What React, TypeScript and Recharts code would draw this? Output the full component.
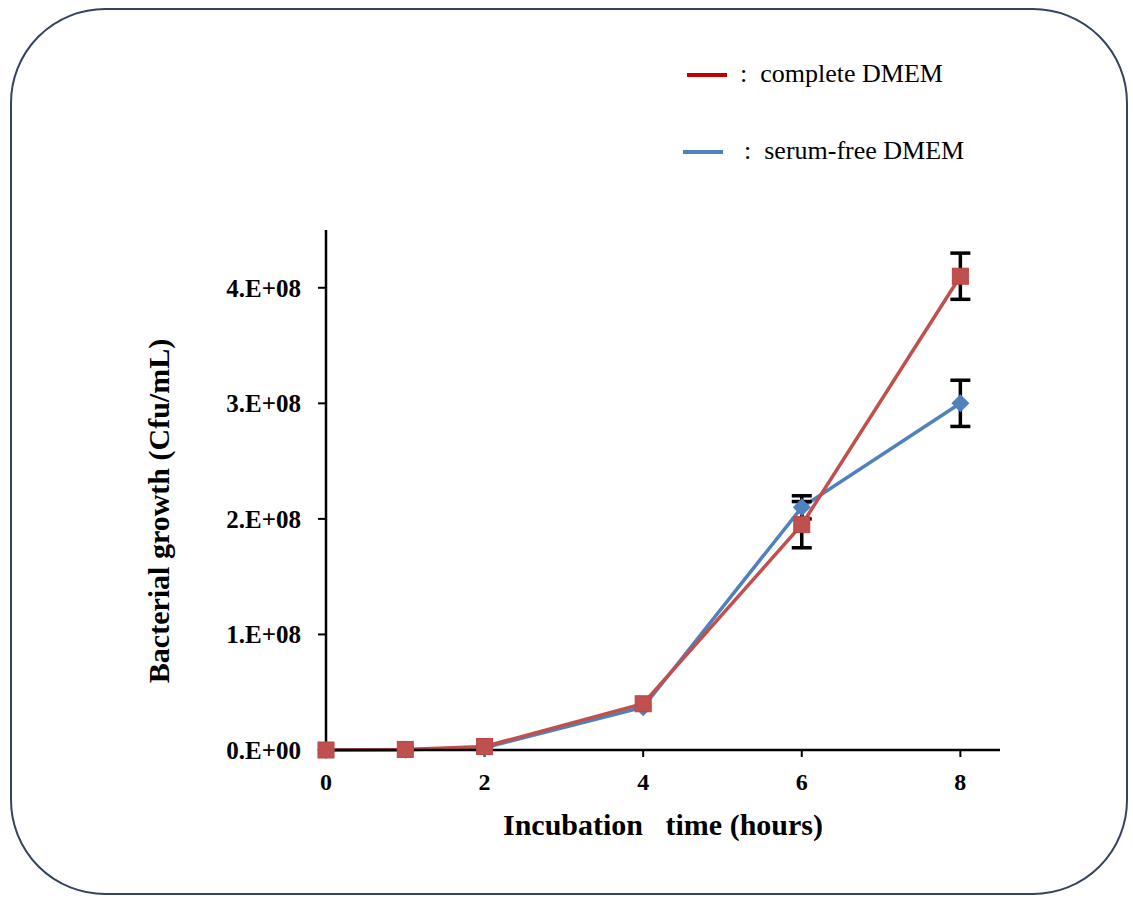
import React from "react";
import { LineChart, Line, XAxis, YAxis, ErrorBar } from "recharts";

const hours = [0, 1, 2, 4, 6, 8];
const completeDMEM = [0, 0.5e6, 3e6, 4.0e7, 1.95e8, 4.1e8];
const completeErr = [0, 0, 0, 0, 2.0e7, 2.0e7];
const serumFreeDMEM = [0, 0.3e6, 2e6, 3.7e7, 2.1e8, 3.0e8];
const serumFreeErr = [0, 0, 0, 0, 1.0e7, 2.0e7];
const xTicks = [0, 2, 4, 6, 8];
const yTicks = [0, 1e8, 2e8, 3e8, 4e8];
const yTickLabels = ["0.E+00", "1.E+08", "2.E+08", "3.E+08", "4.E+08"];

const data = hours.map((h, i) => ({
  h,
  complete: completeDMEM[i],
  completeErr: completeErr[i] || null,
  serum: serumFreeDMEM[i],
  serumErr: serumFreeErr[i] || null,
}));

const RED = "#c0504d";
const BLUE = "#4f81bd";
const FONT = "'Liberation Serif', 'Times New Roman', serif";

const SquareDot = (props: any) => {
  const { cx, cy } = props;
  if (cx == null || cy == null) return null;
  const s = 16;
  return <rect x={cx - s / 2} y={cy - s / 2} width={s} height={s} fill={RED} stroke="#b84545" strokeWidth={1} />;
};

const DiamondDot = (props: any) => {
  const { cx, cy } = props;
  if (cx == null || cy == null) return null;
  const r = 9;
  return (
    <polygon
      points={`${cx},${cy - r} ${cx + r},${cy} ${cx},${cy + r} ${cx - r},${cy}`}
      fill={BLUE}
    />
  );
};

export default function App() {
  return (
    <div style={{ position: "absolute", left: 0, top: 0, width: 1133, height: 902, background: "#fff" }}>
      <div
        style={{
          position: "absolute",
          left: 10,
          top: 8,
          width: 1118,
          height: 887,
          border: "2px solid #34435f",
          borderRadius: 95,
          boxSizing: "border-box",
        }}
      />
      <div style={{ position: "absolute", left: 0, top: 0 }}>
        <LineChart
          width={1133}
          height={902}
          data={data}
          margin={{ top: 230, right: 133, bottom: 102, left: 206 }}
        >
          <XAxis
            dataKey="h"
            type="number"
            domain={[0, 8.5]}
            ticks={xTicks}
            height={50}
            axisLine={{ stroke: "#000", strokeWidth: 2.5 }}
            tickLine={{ stroke: "#000", strokeWidth: 2 }}
            tickSize={7}
            tickMargin={16}
            tick={{ fill: "#000", fontFamily: FONT, fontWeight: "bold", fontSize: 24 }}
          />
          <YAxis
            type="number"
            domain={[0, 4.5e8]}
            ticks={yTicks}
            width={120}
            axisLine={{ stroke: "#000", strokeWidth: 2.5 }}
            tickLine={{ stroke: "#000", strokeWidth: 2 }}
            tickSize={8}
            tickMargin={17}
            tickFormatter={(v: number) => yTickLabels[yTicks.indexOf(v)]}
            tick={{ fill: "#000", fontFamily: FONT, fontWeight: "bold", fontSize: 25 }}
          />
          <Line
            dataKey="serum"
            stroke={BLUE}
            strokeWidth={3.5}
            dot={<DiamondDot />}
            activeDot={false}
            isAnimationActive={false}
          >
            <ErrorBar dataKey="serumErr" width={10} stroke="#000" strokeWidth={3.5} direction="y" />
          </Line>
          <Line
            dataKey="complete"
            stroke={RED}
            strokeWidth={3.5}
            dot={<SquareDot />}
            activeDot={false}
            isAnimationActive={false}
          >
            <ErrorBar dataKey="completeErr" width={10} stroke="#000" strokeWidth={3.5} direction="y" />
          </Line>
        </LineChart>
      </div>
      <svg style={{ position: "absolute", left: 0, top: 0 }} width={1133} height={902} pointerEvents="none">
        <line x1={687} x2={727} y1={75} y2={75} stroke="#c00000" strokeWidth={4} />
        <text x={740} y={82} fontFamily={FONT} fontSize={26} fill="#000">
          {":\u00a0\u00a0complete DMEM"}
        </text>
        <line x1={683} x2={723} y1={152} y2={152} stroke={BLUE} strokeWidth={4} />
        <text x={744} y={159} fontFamily={FONT} fontSize={26} fill="#000">
          {":\u00a0\u00a0serum-free DMEM"}
        </text>
        <text
          x={663}
          y={835}
          textAnchor="middle"
          fontFamily={FONT}
          fontWeight="bold"
          fontSize={30}
          fill="#000"
        >
          {"Incubation\u00a0\u00a0 time (hours)"}
        </text>
        <text
          x={0}
          y={0}
          transform="translate(169, 511) rotate(-90)"
          textAnchor="middle"
          fontFamily={FONT}
          fontWeight="bold"
          fontSize={30}
          fill="#000"
        >
          {"Bacterial growth (Cfu/mL)"}
        </text>
      </svg>
    </div>
  );
}
